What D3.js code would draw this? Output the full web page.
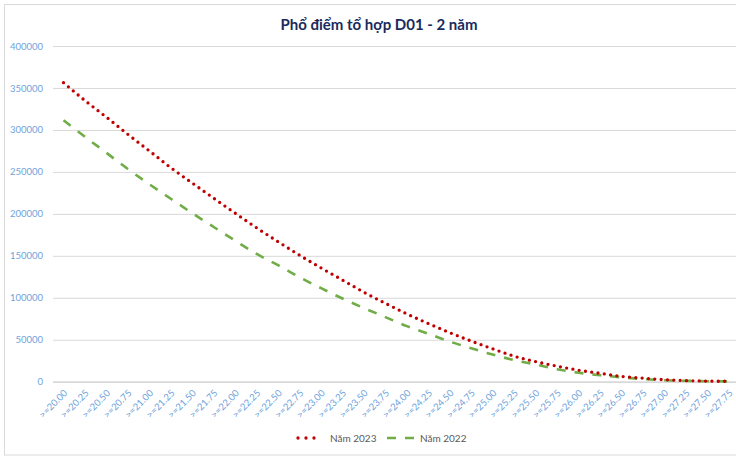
<!DOCTYPE html>
<html><head><meta charset="utf-8">
<script src="https://cdn.jsdelivr.net/npm/d3@7"></script>
<style>body{margin:0;background:#fff;} svg{display:block;}</style>
</head><body>
<svg id="c" width="736" height="460"></svg>
<script>
const categories = [">=20.00",">=20.25",">=20.50",">=20.75",">=21.00",">=21.25",">=21.50",">=21.75",">=22.00",">=22.25",">=22.50",">=22.75",">=23.00",">=23.25",">=23.50",">=23.75",">=24.00",">=24.25",">=24.50",">=24.75",">=25.00",">=25.25",">=25.50",">=25.75",">=26.00",">=26.25",">=26.50",">=26.75",">=27.00",">=27.25",">=27.50",">=27.75"];
const nam2023 = [356300,335000,315200,294700,275000,255000,236700,218600,200800,183300,166800,150700,135600,121100,106600,93400,80800,69300,58400,48400,39200,30400,23900,18500,13700,10000,6300,4200,2400,1300,700,500];
const nam2022 = [311500,291800,272700,253400,235300,218000,200800,184300,168100,152200,138800,124400,111500,99100,87700,77000,66200,57100,47800,39800,32300,25700,20500,14900,10700,7700,5200,3200,1800,1100,600,400];
const yTicks = [0,50000,100000,150000,200000,250000,300000,350000,400000];
const seriesNames = ["Năm 2023","Năm 2022"];
const titleText = "Phổ điểm tổ hợp D01 - 2 năm";

const svg = d3.select("#c");
const font = "Lato, 'Open Sans', sans-serif";
const labelColor = "#6fa3dc";

// chart border
svg.append("rect").attr("x",4.5).attr("y",4.5).attr("width",760).attr("height",450.5)
  .attr("fill","#fff").attr("stroke","#d9d9d9").attr("stroke-width",1);

const x = d3.scalePoint().domain(categories).range([63.5, 728.8]);
const y = d3.scaleLinear().domain([0,400000]).range([381.7, 46]);
const plotLeft = 53, plotRight = 739.5;

// gridlines + y labels
const yAxis = d3.axisLeft(y).tickValues(yTicks).tickSize(-(plotRight-plotLeft)).tickPadding(10).tickFormat(d3.format("d"));
const gy = svg.append("g").attr("transform",`translate(${plotLeft},0)`).call(yAxis);
gy.select(".domain").remove();
gy.selectAll(".tick line").attr("stroke","#d9d9d9").attr("stroke-width",1)
  .filter(d=>d===0).attr("stroke-width",1.8);
gy.selectAll(".tick text").attr("fill",labelColor).attr("font-family",font).attr("font-size","9.5px");

// x labels
const xAxis = d3.axisBottom(x).tickSize(0).tickPadding(0);
const gx = svg.append("g").attr("transform",`translate(0,${y(0)})`).call(xAxis);
gx.select(".domain").remove();
gx.selectAll(".tick text")
  .attr("fill",labelColor).attr("font-family",font).attr("font-size","9.5px")
  .attr("text-anchor","end").attr("dy",null).attr("y",0)
  .attr("transform","translate(4,12) rotate(-45)");

// lines
const line = d3.line().x((d,i)=>x(categories[i])).y(d=>y(d)).curve(d3.curveMonotoneX);
svg.append("path").datum(nam2022).attr("d",line).attr("fill","none")
  .attr("stroke","#70ad47").attr("stroke-width",2.6).attr("stroke-dasharray","9 9");
svg.append("path").datum(nam2023).attr("d",line).attr("fill","none")
  .attr("stroke","#c00000").attr("stroke-width",3.3).attr("stroke-linecap","round").attr("stroke-dasharray","0 6.35");

// title
svg.append("text").attr("x",379).attr("y",30).attr("text-anchor","middle")
  .attr("font-family",font).attr("font-weight","bold").attr("font-size","15px")
  .attr("fill","#1b2a5c").text(titleText);

// legend
const lg = svg.append("g");
lg.append("line").attr("x1",298).attr("x2",322).attr("y1",438).attr("y2",438)
  .attr("stroke","#c00000").attr("stroke-width",3.3).attr("stroke-linecap","round").attr("stroke-dasharray","0 8");
lg.append("text").attr("x",330).attr("y",441.5).attr("font-family",font).attr("font-size","10px")
  .attr("fill","#595959").text(seriesNames[0]);
lg.append("line").attr("x1",387).attr("x2",414).attr("y1",438).attr("y2",438)
  .attr("stroke","#70ad47").attr("stroke-width",2.6).attr("stroke-dasharray","9 9");
lg.append("text").attr("x",420).attr("y",441.5).attr("font-family",font).attr("font-size","10px")
  .attr("fill","#595959").text(seriesNames[1]);
</script>
</body></html>
